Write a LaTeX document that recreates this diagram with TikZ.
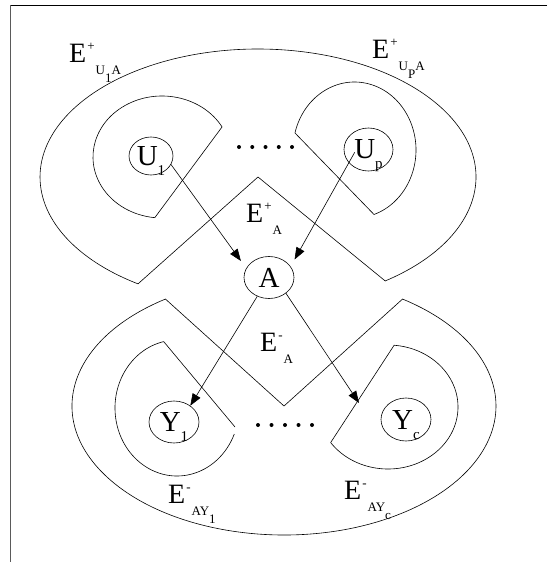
\documentclass[tikz,border=0pt]{standalone}
\usepackage{fontspec}
\setmainfont{Liberation Serif}
\usepackage{tikz}
\usetikzlibrary{arrows.meta,shapes.geometric}
\definecolor{ink}{RGB}{0,0,0}
\definecolor{edge}{RGB}{90,90,90}
\newcommand{\supx}[1]{\kern1pt\raisebox{12pt}{\fontsize{13}{13}\selectfont #1}\kern1pt}
\newcommand{\subx}[1]{\raisebox{-12pt}{\fontsize{13}{13}\selectfont #1}}
\newcommand{\subsubx}[1]{\raisebox{-8pt}{#1}}
\newcommand{\nsub}[1]{\raisebox{-10pt}[0pt][0pt]{\fontsize{15}{15}\selectfont #1}}
\tikzset{
  eline/.style={ink,line width=0.6pt},
  earrow/.style={ink,line width=0.6pt,-{Triangle[length=12pt,width=9pt]}},
  enode/.style={ellipse,draw=ink,line width=0.6pt,inner sep=0pt,
    minimum width=50pt,minimum height=42pt,font=\fontsize{29}{29}\selectfont},
  elabel/.style={inner sep=0pt,anchor=base west,font=\fontsize{28}{28}\selectfont},
  edot/.style={ink},
}

\begin{document}
\begin{tikzpicture}[x=1pt,y=-1pt]
  \useasboundingbox (0,0) rectangle (547,562);
  \draw[ink,line width=0.8pt] (547,5) -- (10,5);
  \draw[edge,line width=0.8pt] (10,5) -- (10,562);
  % the two outer regions
  \draw[eline] ([shift={(258,177)}]54.3:218 and 128)
     arc[start angle=54.3,end angle=-236.6,x radius=218,y radius=128]
     -- (258,177) -- cycle;
  \draw[eline] ([shift={(284,406)}]236:212 and 129)
     arc[start angle=236,end angle=-56,x radius=212,y radius=129]
     -- (284,406) -- cycle;
  % inner regions
  \draw[eline] ([shift={(162,157)}]-29.5:69 and 61)
     arc[start angle=-29.5,end angle=-264,x radius=69,y radius=61] -- cycle;
  \draw[eline] ([shift={(354.5,150)}]-165.5:61.5 and 68)
     arc[start angle=-165.5,end angle=71.5,x radius=61.5,y radius=68] -- cycle;
  \draw[eline] (235,427) -- ([shift={(177,408)}]-102.4:62 and 68)
     arc[start angle=-102.4,end angle=-337.5,x radius=62,y radius=68];
  \draw[eline] ([shift={(388,407)}]-85:70 and 62)
     arc[start angle=-85,end angle=145,x radius=70,y radius=62] -- cycle;
  \foreach \i in {0,...,4} {
    \fill[edot] (239+13.25*\i,147) circle (2);
    \fill[edot] (258+13.5*\i,425) circle (2);
  }
  \node[enode,minimum width=44pt,minimum height=38pt] (U1) at (151,156) {U\nsub{1}};
  \node[enode,minimum width=49pt,minimum height=43pt] (Up) at (368.5,149.5) {U\nsub{p}};
  \node[enode] (A) at (269,277.5) {A};
  \node[enode] (Y1) at (174,422) {Y\nsub{1}};
  \node[enode,minimum height=43pt] (Yc) at (406,419.5) {Y\nsub{c}};
  \coordinate (Yctip) at (359,403);
  \draw[earrow,shorten >=9pt] (U1.-23) -- (A.158);
  \draw[earrow,shorten <=-12pt,shorten >=8pt] (Up.214) -- (A.27);
  \draw[earrow] (A.238) -- (Y1.45);
  \draw[earrow] (A.-43) -- (Yctip);
  \node[elabel] (Lu1) at (69,62) {E\supx{+}\subx{U\subsubx{1}A}};
  \node[elabel] (Lup) at (372,58) {E\supx{+}\subx{U\subsubx{P}A}};
  \node[elabel] (Lap) at (246,222) {E\supx{+}\subx{A}};
  \node[elabel] (Lam) at (260,351) {E\supx{-}\subx{A}};
  \node[elabel] (Ly1) at (168,503) {E\supx{-}\subx{AY\subsubx{1}}};
  \node[elabel] (Lyc) at (344,499) {E\supx{-}\subx{AY\subsubx{c}}};
\end{tikzpicture}
\end{document}
